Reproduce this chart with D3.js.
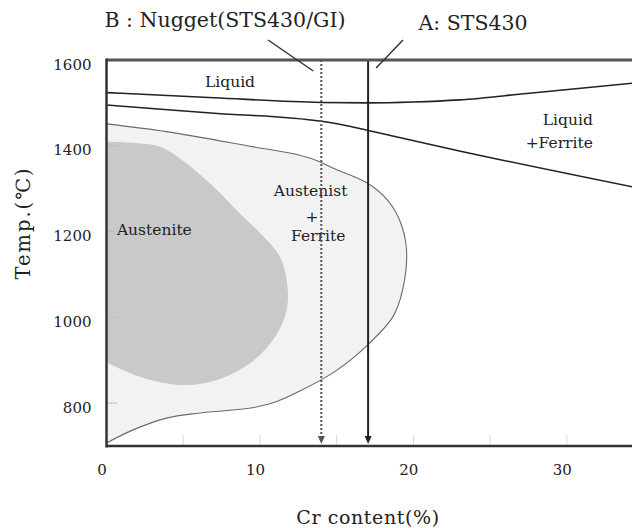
<!DOCTYPE html>
<html>
<head>
<meta charset="utf-8">
<script src="https://cdn.jsdelivr.net/npm/d3@7"></script>
<style>
  html, body { margin: 0; padding: 0; background: #fff; }
  svg { display: block; }
  text { font-family: "DejaVu Serif", "Liberation Serif", serif; fill: #222; }
</style>
</head>
<body>
<div id="chart"></div>
<script>
// ---- Data (Cr %, Temperature °C) ----
const xTicks = [0, 10, 20, 30];
const yTicks = [800, 1000, 1200, 1400, 1600];
const minorXTicks = [5, 10, 15, 20, 25, 30];

// Liquidus line (Liquid / Liquid+Ferrite boundary)
const liquidus = [[0,1524],[7,1512],[14,1501],[17,1500],[20,1502],[23,1507],[27.4,1522],[34.3,1546]];
// Solidus line (Liquid+Ferrite / Ferrite boundary)
const solidus = [[0,1495],[7,1476],[14,1457],[15.5,1448],[17,1436],[23,1388],[34.3,1304]];
// Outer gamma loop (Austenite + Ferrite boundary)
const gammaLoop = [[0,1451],[3.9,1433],[9.5,1398],[12.6,1378],[13.9,1363],[14.75,1348],[17,1313],[18.3,1274],[19.1,1227],[19.55,1160],[19.3,1064],[18.66,1001],[17.03,936],[14.9,874],[12.6,828],[11.1,804],[9.5,789],[6.1,777],[3.9,765],[1.7,737],[0,707]];
// Inner austenite region
const austenite = [[0,1410],[2,1406],[3.5,1398],[5,1365],[7.2,1297],[8.6,1245],[10,1197],[11.3,1141],[11.8,1071],[11.7,1010],[10.85,947],[9.35,893],[7.2,854],[5,842],[2.2,861],[0,895]];

const markerB = 14.0;   // Nugget (STS430/GI)
const markerA = 17.05;  // STS430

const regionLabels = [
  {text: "Liquid", cr: 8.05, t: 1549, anchor: "middle"},
  {text: "Austenite", cr: 0.68, t: 1204, anchor: "start"},
  {text: "Austenist", cr: 13.3, t: 1295, anchor: "middle"},
  {text: "+", cr: 13.4, t: 1236, anchor: "middle"},
  {text: "Ferrite", cr: 13.8, t: 1190, anchor: "middle"},
  {text: "Liquid", cr: 31.7, t: 1460, anchor: "end"},
  {text: "+Ferrite", cr: 31.7, t: 1407, anchor: "end"}
];

// ---- Layout ----
const W = 632, H = 528;
const svg = d3.select("#chart").append("svg").attr("width", W).attr("height", H);

const x = d3.scaleLinear().domain([0, 34.25]).range([106.5, 632]);
const y = d3.scaleLinear().domain([700, 1600]).range([446, 60]);

svg.append("defs").append("clipPath").attr("id", "plotclip")
  .append("rect").attr("x", x(0)).attr("y", y(1600)).attr("width", W - x(0)).attr("height", y(700) - y(1600));

const plot = svg.append("g").attr("clip-path", "url(#plotclip)");

const lineCurve = d3.line().x(d => x(d[0])).y(d => y(d[1])).curve(d3.curveCatmullRom.alpha(0.5));
const lineStraight = d3.line().x(d => x(d[0])).y(d => y(d[1])).curve(d3.curveMonotoneX);

// Outer loop fill + outline
plot.append("path").attr("d", lineCurve(gammaLoop) + "Z")
  .attr("fill", "#f2f2f2").attr("stroke", "none");
plot.append("path").attr("d", lineCurve(gammaLoop))
  .attr("fill", "none").attr("stroke", "#6a6a6a").attr("stroke-width", 1.1);

// Inner austenite region
plot.append("path").attr("d", lineCurve(austenite) + "Z")
  .attr("fill", "#c9c9c9").attr("stroke", "none");

// Minor ticks (faint)
plot.selectAll(".mtx").data(minorXTicks).enter().append("line")
  .attr("x1", d => x(d)).attr("x2", d => x(d))
  .attr("y1", y(700)).attr("y2", y(700) - 11)
  .attr("stroke", "#d8d8d8").attr("stroke-width", 1);
plot.selectAll(".mty").data(yTicks.filter(d => d < 1600)).enter().append("line")
  .attr("x1", x(0)).attr("x2", x(0) + 11)
  .attr("y1", d => y(d)).attr("y2", d => y(d))
  .attr("stroke", "#bdbdbd").attr("stroke-width", 1);

// Liquidus and solidus lines
plot.append("path").attr("d", lineStraight(liquidus))
  .attr("fill", "none").attr("stroke", "#222").attr("stroke-width", 1.6);
plot.append("path").attr("d", lineStraight(solidus))
  .attr("fill", "none").attr("stroke", "#222").attr("stroke-width", 1.6);

// Region labels
svg.selectAll(".rl").data(regionLabels).enter().append("text")
  .attr("x", d => x(d.cr)).attr("y", d => y(d.t)).attr("dy", "0.35em")
  .attr("text-anchor", d => d.anchor)
  .attr("font-size", 15.5)
  .text(d => d.text);

// Marker lines with arrowheads
function arrowHead(cx, tipY, color) {
  svg.append("path")
    .attr("d", `M${cx - 3.5},${tipY - 8} L${cx + 3.5},${tipY - 8} L${cx},${tipY} Z`)
    .attr("fill", color);
}
svg.append("line").attr("x1", x(markerB)).attr("x2", x(markerB))
  .attr("y1", y(1600)).attr("y2", y(700) - 6)
  .attr("stroke", "#555").attr("stroke-width", 2).attr("stroke-dasharray", "2,2");
arrowHead(x(markerB), y(700) - 2, "#555");
svg.append("line").attr("x1", x(markerA)).attr("x2", x(markerA))
  .attr("y1", y(1600)).attr("y2", y(700) - 6)
  .attr("stroke", "#222").attr("stroke-width", 2);
arrowHead(x(markerA), y(700) - 2, "#222");

// Frame: top, left, bottom
svg.append("line").attr("x1", x(0)).attr("x2", W).attr("y1", y(1600)).attr("y2", y(1600))
  .attr("stroke", "#555").attr("stroke-width", 3);
svg.append("line").attr("x1", x(0)).attr("x2", x(0)).attr("y1", y(1600) - 1.5).attr("y2", y(700) + 1.5)
  .attr("stroke", "#333").attr("stroke-width", 2.5);
svg.append("line").attr("x1", x(0)).attr("x2", W).attr("y1", y(700)).attr("y2", y(700))
  .attr("stroke", "#333").attr("stroke-width", 2.5);

// Axes (labels only)
const xAxis = d3.axisBottom(x).tickValues(xTicks).tickSize(0).tickPadding(0).tickFormat(d3.format("d"));
const gx = svg.append("g").attr("transform", `translate(0, ${y(700)})`).call(xAxis);
gx.select(".domain").remove();
gx.selectAll("text").attr("font-family", "DejaVu Serif, serif").attr("font-size", 15)
  .attr("fill", "#222").attr("y", 24).attr("dy", "0.35em").attr("dx", -5);

const yAxis = d3.axisLeft(y).tickValues(yTicks).tickSize(0).tickPadding(0).tickFormat(d3.format("d"));
const gy = svg.append("g").attr("transform", `translate(${x(0)}, 0)`).call(yAxis);
gy.select(".domain").remove();
gy.selectAll("text").attr("font-family", "DejaVu Serif, serif").attr("font-size", 15)
  .attr("fill", "#222").attr("x", -15).attr("dy", "0.6em");

// Axis titles
svg.append("text").attr("x", 368).attr("y", 517).attr("dy", "0.35em")
  .attr("text-anchor", "middle").attr("font-size", 19).attr("letter-spacing", 0.6)
  .text("Cr content(%)");
svg.append("text").attr("transform", "translate(23, 223) rotate(-90)").attr("dy", "0.35em")
  .attr("text-anchor", "middle").attr("font-size", 19.5).attr("letter-spacing", 2)
  .text("Temp.(℃)");

// Top annotations
svg.append("text").attr("x", 225).attr("y", 27).attr("text-anchor", "middle")
  .attr("font-size", 20.5).text("B : Nugget(STS430/GI)");
svg.append("text").attr("x", 473).attr("y", 30).attr("text-anchor", "middle")
  .attr("font-size", 20.5).text("A: STS430");

// Pointer lines from annotations
svg.append("line").attr("x1", 268).attr("y1", 40).attr("x2", x(markerB) - 8).attr("y2", 71)
  .attr("stroke", "#333").attr("stroke-width", 1.5);
svg.append("line").attr("x1", 403).attr("y1", 40).attr("x2", x(markerA) + 8).attr("y2", 68)
  .attr("stroke", "#333").attr("stroke-width", 1.5);
</script>
</body>
</html>
